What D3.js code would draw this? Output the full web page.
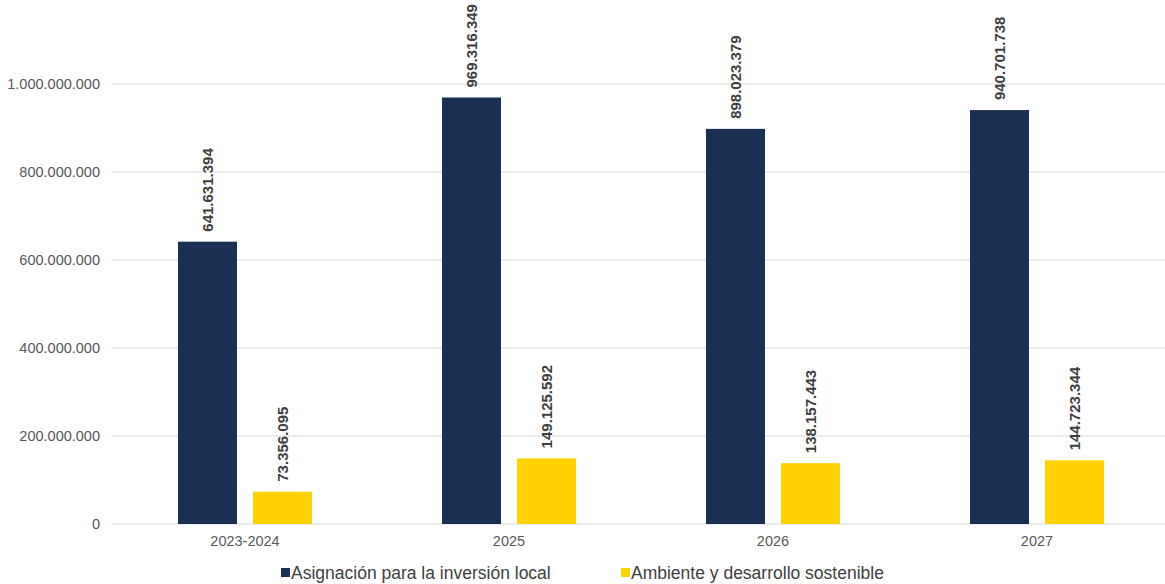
<!DOCTYPE html>
<html>
<head>
<meta charset="utf-8">
<script src="https://cdn.jsdelivr.net/npm/d3@7"></script>
<style>
  body { margin: 0; background: #fff; }
  svg { display: block; font-family: "Liberation Sans", Arial, sans-serif; }
</style>
</head>
<body>
<div id="container"></div>
<script>
var categories = ['2023-2024', '2025', '2026', '2027']
var seriesNames = ['Asignación para la inversión local', 'Ambiente y desarrollo sostenible']
var inversionLocal = [641631394, 969316349, 898023379, 940701738]
var ambiente = [73356095, 149125592, 138157443, 144723344]
var yTicks = [0, 200000000, 400000000, 600000000, 800000000, 1000000000]
var colors = ['#1b2f52', '#ffd200']

var width = 1165, height = 584
var svg = d3.select('#container').append('svg').attr('width', width).attr('height', height)

var x = d3.scaleBand().domain(categories).range([113, 1169])
var y = d3.scaleLinear().domain([0, 1000000000]).range([524, 84])

var fmt = function (v) {
  return d3.format(',')(v).replace(/,/g, '.')
}

// gridlines
svg.append('g').selectAll('line').data(yTicks).enter().append('line')
  .attr('x1', 113).attr('x2', 1165)
  .attr('y1', function (d) { return y(d) }).attr('y2', function (d) { return y(d) })
  .attr('stroke', '#d9d9d9').attr('stroke-width', 1)

// y labels
svg.append('g').selectAll('text').data(yTicks).enter().append('text')
  .attr('x', 100).attr('y', function (d) { return y(d) + 5 })
  .attr('text-anchor', 'end').attr('font-size', 14.5).attr('fill', '#595959')
  .text(fmt)

// x labels
svg.append('g').selectAll('text').data(categories).enter().append('text')
  .attr('x', function (d) { return x(d) + x.bandwidth() / 2 }).attr('y', 546)
  .attr('text-anchor', 'middle').attr('font-size', 14.5).attr('fill', '#595959')
  .text(function (d) { return d })

var barW = 59, gap = 16
var series = [inversionLocal, ambiente]

series.forEach(function (vals, s) {
  var data = categories.map(function (c, i) { return { cat: c, v: vals[i] } })
  var off = s === 0 ? -gap / 2 - barW : gap / 2
  var g = svg.append('g')
  g.selectAll('rect').data(data).enter().append('rect')
    .attr('x', function (d) { return x(d.cat) + x.bandwidth() / 2 + off })
    .attr('y', function (d) { return y(d.v) })
    .attr('width', barW)
    .attr('height', function (d) { return y(0) - y(d.v) })
    .attr('fill', colors[s])
  g.selectAll('text').data(data).enter().append('text')
    .attr('transform', function (d) {
      var cx = x(d.cat) + x.bandwidth() / 2 + off + barW / 2 + 5.5
      return 'translate(' + cx + ',' + (y(d.v) - 10) + ') rotate(-90)'
    })
    .attr('font-size', 15).attr('font-weight', 'bold').attr('fill', '#404040')
    .text(function (d) { return fmt(d.v) })
})

// legend
var legendX = [281, 621]
seriesNames.forEach(function (n, i) {
  svg.append('rect').attr('x', legendX[i]).attr('y', 568).attr('width', 9).attr('height', 9).attr('fill', colors[i])
  svg.append('text').attr('x', legendX[i] + 10).attr('y', 579)
    .attr('font-size', 17.5).attr('fill', '#404040').text(n)
})
</script>
</body>
</html>
